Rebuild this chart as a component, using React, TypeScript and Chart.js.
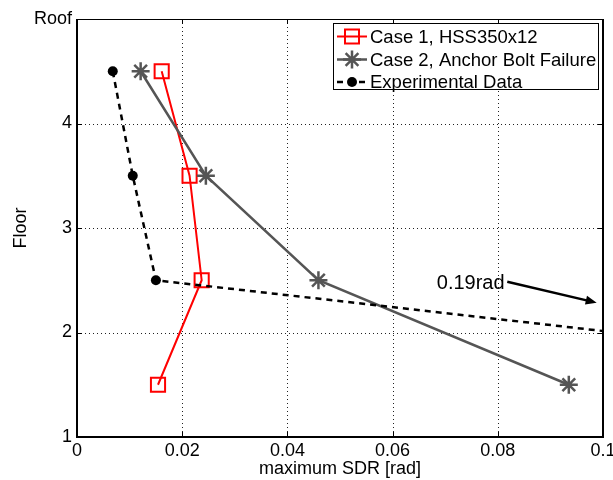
import React, { useEffect, useRef } from 'react';
import { Chart, registerables } from 'chart.js';

Chart.register(...registerables);

// ---- data ----
const FLOORS = [4.5, 3.5, 2.5, 1.5];
const CASE1_SDR = [0.0161, 0.0214, 0.0237, 0.0154];
const CASE2_SDR = [0.0121, 0.0245, 0.0459, 0.0935];
const EXP_SDR = [0.0068, 0.0106, 0.015, 0.19];
const X_TICKS = [0, 0.02, 0.04, 0.06, 0.08, 0.1];
const Y_TICKS = [1, 2, 3, 4, 5];
const Y_TICK_LABELS = ['1', '2', '3', '4', 'Roof'];
const SERIES_LABELS = ['Case 1, HSS350x12', 'Case 2, Anchor Bolt Failure', 'Experimental Data'];
const X_TITLE = 'maximum SDR [rad]';
const Y_TITLE = 'Floor';
const ANNOTATION_TEXT = '0.19rad';

const FONT = '"Liberation Sans", Arial, Helvetica, sans-serif';
const RED = '#ff0000';
const GRAY = '#555555';
const BLACK = '#000000';

function pts(xs: number[], ys: number[]) {
  return xs.map((v, i) => ({ x: v, y: ys[i] }));
}

function fmtX(v: number) {
  return String(parseFloat(Number(v).toFixed(2)));
}

function drawMarker(ctx: CanvasRenderingContext2D, style: string, cx: number, cy: number) {
  ctx.save();
  ctx.setLineDash([]);
  if (style === 'rect') {
    ctx.strokeStyle = RED;
    ctx.lineWidth = 2;
    ctx.strokeRect(cx - 7, cy - 7, 14, 14);
  } else if (style === 'star') {
    ctx.strokeStyle = GRAY;
    ctx.lineWidth = 2.5;
    const r = 9;
    const d = r * Math.SQRT1_2;
    ctx.beginPath();
    ctx.moveTo(cx - r, cy); ctx.lineTo(cx + r, cy);
    ctx.moveTo(cx, cy - r); ctx.lineTo(cx, cy + r);
    ctx.moveTo(cx - d, cy - d); ctx.lineTo(cx + d, cy + d);
    ctx.moveTo(cx - d, cy + d); ctx.lineTo(cx + d, cy - d);
    ctx.stroke();
  } else {
    ctx.fillStyle = BLACK;
    ctx.beginPath();
    ctx.arc(cx, cy, 5, 0, Math.PI * 2);
    ctx.fill();
  }
  ctx.restore();
}

const framePlugin = {
  id: 'matlabFrame',
  beforeDatasetsDraw(chart: any) {
    const { ctx, chartArea: a, scales } = chart;
    const x = scales.x;
    const y = scales.y;
    ctx.save();
    ctx.strokeStyle = '#222';
    ctx.lineWidth = 1;
    ctx.setLineDash([1, 3]);
    X_TICKS.forEach((v) => {
      if (v <= x.min || v >= x.max) return;
      const px = Math.round(x.getPixelForValue(v)) + 0.5;
      ctx.beginPath();
      ctx.moveTo(px, a.top);
      ctx.lineTo(px, a.bottom);
      ctx.stroke();
    });
    Y_TICKS.forEach((v) => {
      if (v <= y.min || v >= y.max) return;
      const py = Math.round(y.getPixelForValue(v)) + 0.5;
      ctx.beginPath();
      ctx.moveTo(a.left, py);
      ctx.lineTo(a.right, py);
      ctx.stroke();
    });
    ctx.restore();
  },
  afterDatasetsDraw(chart: any) {
    const { ctx, chartArea: a, scales } = chart;
    const x = scales.x;
    const y = scales.y;
    ctx.save();
    ctx.setLineDash([]);
    ctx.strokeStyle = BLACK;
    // inward tick marks
    ctx.lineWidth = 1;
    X_TICKS.forEach((v) => {
      const px = Math.round(x.getPixelForValue(v)) + 0.5;
      ctx.beginPath();
      ctx.moveTo(px, a.bottom);
      ctx.lineTo(px, a.bottom - 5);
      ctx.moveTo(px, a.top);
      ctx.lineTo(px, a.top + 5);
      ctx.stroke();
    });
    Y_TICKS.forEach((v) => {
      const py = Math.round(y.getPixelForValue(v)) + 0.5;
      ctx.beginPath();
      ctx.moveTo(a.left, py);
      ctx.lineTo(a.left + 5, py);
      ctx.moveTo(a.right, py);
      ctx.lineTo(a.right - 5, py);
      ctx.stroke();
    });
    // frame
    ctx.lineWidth = 1;
    ctx.beginPath();
    ctx.moveTo(a.left, a.top + 0.5);
    ctx.lineTo(a.right, a.top + 0.5);
    ctx.stroke();
    ctx.lineWidth = 2;
    ctx.beginPath();
    ctx.moveTo(a.left, a.top);
    ctx.lineTo(a.left, a.bottom);
    ctx.lineTo(a.right, a.bottom);
    ctx.lineTo(a.right, a.top);
    ctx.stroke();

    // x tick labels (centered under the ticks, overflowing the right edge like the original)
    ctx.fillStyle = BLACK;
    ctx.font = `18px ${FONT}`;
    ctx.textAlign = 'center';
    ctx.textBaseline = 'top';
    X_TICKS.forEach((v) => {
      ctx.fillText(fmtX(v), x.getPixelForValue(v), a.bottom + 5);
    });

    // annotation
    const tx = x.getPixelForValue(0.0684);
    const ty = y.getPixelForValue(2.47);
    ctx.font = `20px ${FONT}`;
    ctx.textAlign = 'left';
    ctx.textBaseline = 'middle';
    ctx.fillText(ANNOTATION_TEXT, tx, ty);
    const x0 = x.getPixelForValue(0.0818);
    const y0 = y.getPixelForValue(2.485);
    const x1 = x.getPixelForValue(0.0988);
    const y1 = y.getPixelForValue(2.285);
    const ang = Math.atan2(y1 - y0, x1 - x0);
    ctx.lineWidth = 2.5;
    ctx.beginPath();
    ctx.moveTo(x0, y0);
    ctx.lineTo(x1 - 6 * Math.cos(ang), y1 - 6 * Math.sin(ang));
    ctx.stroke();
    ctx.beginPath();
    ctx.moveTo(x1, y1);
    ctx.lineTo(x1 - 11 * Math.cos(ang) + 4.5 * Math.sin(ang), y1 - 11 * Math.sin(ang) - 4.5 * Math.cos(ang));
    ctx.lineTo(x1 - 11 * Math.cos(ang) - 4.5 * Math.sin(ang), y1 - 11 * Math.sin(ang) + 4.5 * Math.cos(ang));
    ctx.closePath();
    ctx.fill();
    ctx.restore();
  },
  afterDraw(chart: any) {
    const { ctx } = chart;
    const left = 333.5;
    const top = 23.5;
    const w = 265;
    const h = 66;
    ctx.save();
    ctx.fillStyle = '#ffffff';
    ctx.fillRect(left, top, w, h);
    ctx.strokeStyle = BLACK;
    ctx.lineWidth = 1;
    ctx.setLineDash([]);
    ctx.strokeRect(left, top, w, h);
    const styles = ['rect', 'star', 'circle'];
    const colors = [RED, GRAY, BLACK];
    const rowY = [36.5, 59.5, 82];
    SERIES_LABELS.forEach((label, i) => {
      const cy = rowY[i];
      ctx.save();
      ctx.strokeStyle = colors[i];
      ctx.lineWidth = i === 0 ? 2 : 2.5;
      if (i === 2) ctx.setLineDash([6, 5]);
      ctx.beginPath();
      ctx.moveTo(337, cy);
      ctx.lineTo(367, cy);
      ctx.stroke();
      ctx.restore();
      drawMarker(ctx, styles[i], 352, cy);
      ctx.fillStyle = BLACK;
      ctx.font = `18.5px ${FONT}`;
      ctx.textAlign = 'left';
      ctx.textBaseline = 'middle';
      ctx.fillText(label, 370, cy + 1);
    });
    ctx.restore();
  },
};

export default function App() {
  const ref = useRef<HTMLCanvasElement | null>(null);
  useEffect(() => {
    if (!ref.current) return;
    const chart = new Chart(ref.current, {
      type: 'scatter',
      data: {
        datasets: [
          {
            label: SERIES_LABELS[0],
            data: pts(CASE1_SDR, FLOORS),
            showLine: true,
            borderColor: RED,
            borderWidth: 2,
            pointStyle: 'rect',
            pointRadius: 10,
            pointBorderWidth: 2,
            pointBorderColor: RED,
            pointBackgroundColor: 'rgba(0,0,0,0)',
            order: 3,
          },
          {
            label: SERIES_LABELS[1],
            data: pts(CASE2_SDR, FLOORS),
            showLine: true,
            borderColor: GRAY,
            borderWidth: 2.5,
            pointStyle: 'star',
            pointRadius: 9,
            pointBorderWidth: 2.5,
            pointBorderColor: GRAY,
            pointBackgroundColor: GRAY,
            order: 2,
          },
          {
            label: SERIES_LABELS[2],
            data: pts(EXP_SDR, FLOORS),
            showLine: true,
            borderColor: BLACK,
            borderWidth: 2.5,
            borderDash: [6, 5],
            pointStyle: 'circle',
            pointRadius: 5,
            pointBorderWidth: 0,
            pointBackgroundColor: BLACK,
            order: 1,
          },
        ] as any,
      },
      options: {
        animation: false,
        responsive: false,
        devicePixelRatio: 1,
        layout: { autoPadding: false, padding: { top: 19, right: 10, left: 0, bottom: 0 } },
        plugins: { legend: { display: false }, tooltip: { enabled: false } },
        scales: {
          x: {
            type: 'linear',
            min: 0,
            max: 0.1,
            grid: { display: false, drawTicks: false },
            border: { display: false },
            afterBuildTicks: (s: any) => {
              s.ticks = X_TICKS.map((v) => ({ value: v }));
            },
            afterFit: (s: any) => {
              s.height = 43;
              s.paddingLeft = 0;
              s.paddingRight = 0;
            },
            ticks: { display: false },
            title: {
              display: true,
              text: X_TITLE,
              color: BLACK,
              font: { family: FONT, size: 18 },
              padding: { top: 0, bottom: 0 },
            },
          },
          y: {
            type: 'linear',
            min: 1,
            max: 5,
            grid: { display: false, drawTicks: false },
            border: { display: false },
            afterBuildTicks: (s: any) => {
              s.ticks = Y_TICKS.map((v) => ({ value: v }));
            },
            afterFit: (s: any) => {
              s.width = 77;
              s.paddingTop = 0;
              s.paddingBottom = 0;
            },
            ticks: {
              color: BLACK,
              font: { family: FONT, size: 18 },
              padding: 5,
              autoSkip: false,
              callback: (v: any) => {
                const i = Y_TICKS.indexOf(Number(v));
                return i >= 0 ? Y_TICK_LABELS[i] : '';
              },
            },
            title: {
              display: true,
              text: Y_TITLE,
              color: BLACK,
              font: { family: FONT, size: 18 },
              padding: { top: 10, bottom: 0 },
            },
          },
        },
      } as any,
      plugins: [framePlugin as any],
    });
    return () => chart.destroy();
  }, []);
  return (
    <div style={{ position: 'absolute', left: 0, top: 0, width: 613, height: 480 }}>
      <canvas ref={ref} width={613} height={480} style={{ display: 'block' }} />
    </div>
  );
}
